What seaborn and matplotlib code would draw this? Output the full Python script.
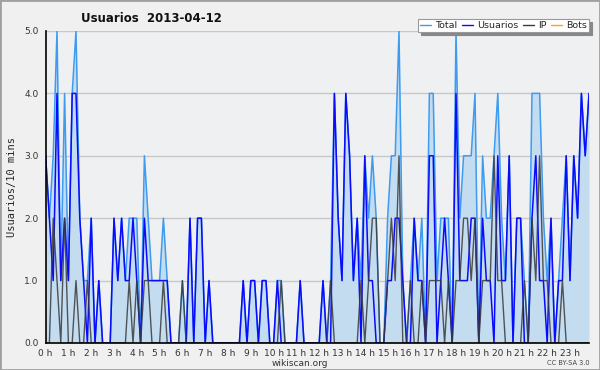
import numpy as np
import pandas as pd
import matplotlib
matplotlib.use("Agg")
import matplotlib.pyplot as plt
import seaborn as sns
from matplotlib.ticker import MultipleLocator, FormatStrFormatter, FixedLocator
from matplotlib.lines import Line2D
from matplotlib.patches import Rectangle

# ---- data (10-minute intervals, 144 per day) ----
usuarios = [3,2,1,4,1,2,1,4,4,2,
            1,0,2,0,1,0,0,0,2,1,
            2,1,1,2,1,0,2,1,1,1,
            1,1,1,0,0,0,0,0,2,0,
            2,2,0,1,0,0,0,0,0,0,
            0,0,1,0,1,1,0,1,1,0,
            0,1,0,0,0,0,0,1,0,0,
            0,0,0,1,0,0,4,2,1,4,
            3,1,2,0,3,1,1,0,0,0,
            1,1,2,2,1,0,0,2,1,1,
            0,3,3,0,1,2,1,0,4,1,
            1,1,2,2,0,2,1,1,0,3,
            1,1,3,0,2,2,0,0,2,3,
            1,1,0,2,0,1,1,3,1,3,
            2,4,3,4]
ip = [0,0,2,1,0,2,0,0,1,0,
      0,1,0,0,0,0,0,0,0,0,
      0,0,1,0,1,0,1,1,0,0,
      0,1,0,0,0,0,1,0,0,0,
      0,0,0,0,0,0,0,0,0,0,
      0,0,0,0,0,0,0,0,0,0,
      0,0,1,0,0,0,0,0,0,0,
      0,0,0,0,0,1,0,0,0,0,
      0,0,0,1,0,1,2,2,0,0,
      1,2,1,3,0,0,1,0,0,1,
      0,1,1,1,1,0,1,0,1,1,
      2,2,1,2,0,1,1,1,3,1,
      1,0,0,0,0,0,1,0,2,1,
      3,1,1,0,0,0,1,0,0,0,
      0,0,0,0]
total = [3,2,3,5,1,4,1,4,5,2,
         1,1,2,0,1,0,0,0,2,1,
         2,1,2,2,2,0,3,2,1,1,
         1,2,1,0,0,0,1,0,2,0,
         2,2,0,1,0,0,0,0,0,0,
         0,0,1,0,1,1,0,1,1,0,
         0,1,1,0,0,0,0,1,0,0,
         0,0,0,1,0,1,4,2,1,4,
         3,1,2,1,3,2,3,2,0,0,
         2,3,3,5,1,0,1,2,1,2,
         0,4,4,1,2,2,2,0,5,2,
         3,3,3,4,0,3,2,2,3,4,
         2,1,3,0,2,2,1,0,4,4,
         4,2,1,2,0,1,2,3,1,3,
         2,4,3,4]
bots = [0] * 144
hour_ticks = list(range(24))
hour_labels = [f"{h} h" for h in hour_ticks]
y_ticks = [0, 1, 2, 3, 4, 5]

df = pd.DataFrame({
    "hour": np.arange(len(total)) / 6.0,
    "Total": total, "Usuarios": usuarios, "IP": ip, "Bots": bots,
})

sns.set_theme(style="white")
plt.rcParams["font.family"] = ["DejaVu Sans"]

fig = plt.figure(figsize=(6.0, 3.7), dpi=100, facecolor="#f0f0f0")
ax = fig.add_axes([45.6/600, 1 - 343/370, (589 - 45.6)/600, (343 - 31)/370])
ax.set_facecolor("#eff0f2")

c_total = "#3d9bf0"
c_fill = "#c4dcf0"
c_user = "#0a0aff"
c_ip = "#3a3a3a"
c_bots = "#ffa500"

for y in y_ticks[1:]:
    ax.axhline(y, color="#c8c8c8", lw=1.0, zorder=0.5)

ax.fill_between(df["hour"], 0, df["Total"], color=c_fill, lw=0, zorder=1)
sns.lineplot(data=df, x="hour", y="Bots", ax=ax, color=c_bots, lw=1, zorder=1.5, legend=False)
sns.lineplot(data=df, x="hour", y="Total", ax=ax, color=c_total, lw=1.1, zorder=2, legend=False)
sns.lineplot(data=df, x="hour", y="Usuarios", ax=ax, color=c_user, lw=1.1, zorder=3, legend=False)
sns.lineplot(data=df, x="hour", y="IP", ax=ax, color=c_ip, lw=1.0, alpha=0.85, zorder=4, legend=False)

ax.set_xlim(0, 143/6)
ax.set_ylim(0, 5)
ax.set_xlabel("")
ax.set_ylabel("Usuarios/10 mins", fontsize=7.5, family="DejaVu Sans Mono", labelpad=5)

ax.xaxis.set_major_locator(FixedLocator(hour_ticks))
ax.set_xticklabels(hour_labels)
ax.xaxis.set_minor_locator(MultipleLocator(1/6))
ax.yaxis.set_major_locator(FixedLocator(y_ticks))
ax.yaxis.set_major_formatter(FormatStrFormatter("%.1f"))
ax.yaxis.set_minor_locator(MultipleLocator(0.25))

ax.tick_params(axis="x", which="major", direction="out", length=3.5, width=1, labelsize=6.5, pad=0.5, colors="black")
ax.tick_params(axis="x", which="minor", direction="out", length=2.5, width=0.8, colors="black")
ax.tick_params(axis="y", which="major", direction="out", length=4, width=1, labelsize=6.5, pad=1, colors="black")
ax.tick_params(axis="y", which="minor", direction="out", length=2, width=0.8, colors="black")
ax.tick_params(axis="both", labelcolor="#333333")

for s in ["top", "right"]:
    ax.spines[s].set_visible(False)
for s in ["left", "bottom"]:
    ax.spines[s].set_color("black")
    ax.spines[s].set_linewidth(1.2)
    ax.spines[s].set_zorder(6)

fig.text(151/600, 1 - 18/370, "Usuarios  2013-04-12", ha="center", va="center",
         fontsize=8.5, fontweight="bold", color="#111111")
fig.text(300/600, 1 - 363/370, "wikiscan.org", ha="center", va="center", fontsize=6.5, color="#333333")
fig.text(590/600, 1 - 363/370, "CC BY-SA 3.0", ha="right", va="center", fontsize=4.8, color="#444444")

handles = [Line2D([0], [0], color=c_total, lw=1),
           Line2D([0], [0], color=c_user, lw=1),
           Line2D([0], [0], color=c_ip, lw=1),
           Line2D([0], [0], color=c_bots, lw=1)]
leg = fig.legend(handles, ["Total", "Usuarios", "IP", "Bots"], ncol=4,
                 loc="upper right", bbox_to_anchor=(589/600, 1 - 19.5/370),
                 fontsize=6.8, frameon=True, fancybox=False,
                 shadow={"color": "#888888", "alpha": 1, "ox": 2, "oy": -2},
                 handlelength=1.2, handletextpad=0.4, columnspacing=0.5,
                 borderpad=0.2, borderaxespad=0)
leg.get_frame().set_edgecolor("#999999")
leg.get_frame().set_linewidth(0.8)
leg.get_frame().set_facecolor("white")
leg.set_zorder(10)

fig.patches.append(Rectangle((0, 0), 1, 1, transform=fig.transFigure, fill=False,
                             edgecolor="#a0a0a0", lw=2))

fig.savefig("out.png", dpi=100, facecolor=fig.get_facecolor())
